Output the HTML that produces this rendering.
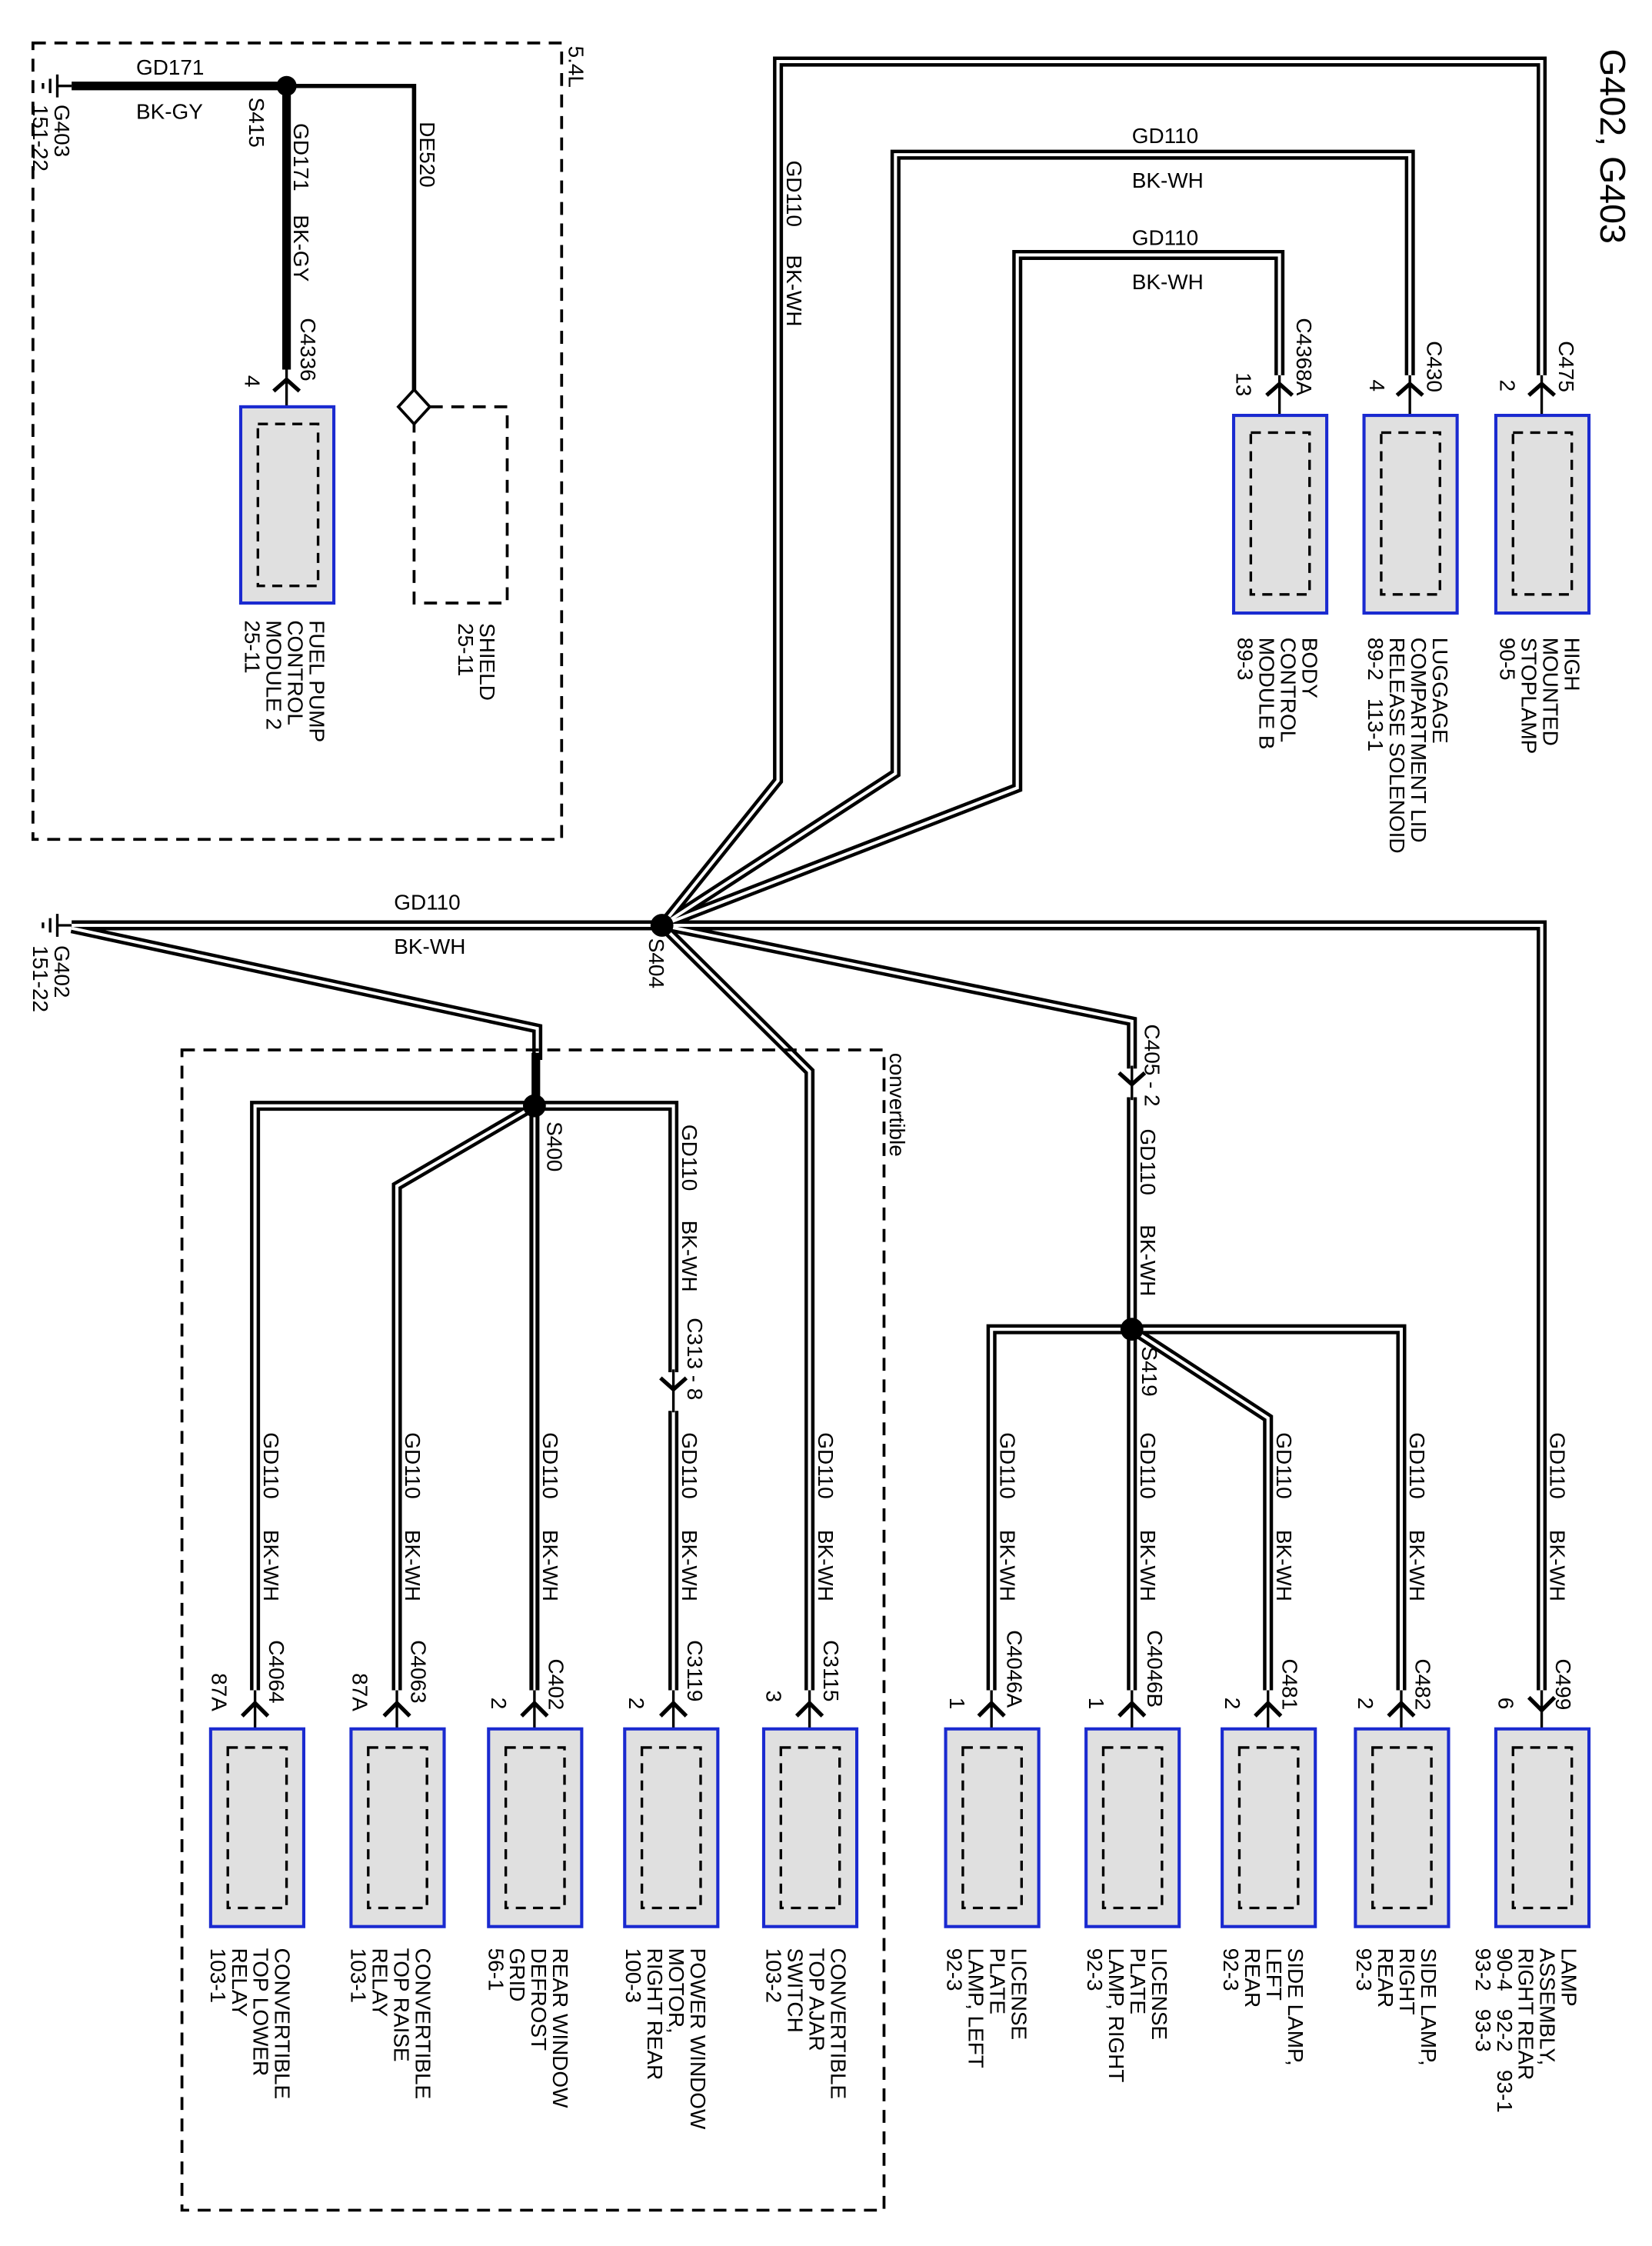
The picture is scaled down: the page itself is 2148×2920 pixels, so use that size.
<!DOCTYPE html>
<html><head><meta charset="utf-8"><style>
html,body{margin:0;padding:0;background:#fff;}
svg{display:block;}
text{font-family:"Liberation Sans",Arial,sans-serif;font-size:15px;fill:#000;}
.bx{fill:#e0e0e0;stroke:#1a2ad0;stroke-width:2.2;}
.in{fill:none;stroke:#000;stroke-width:1.8;stroke-dasharray:7 5;}
.w1{fill:none;stroke:#000;stroke-width:7;stroke-linejoin:miter;}
.w2{fill:none;stroke:#fff;stroke-width:2.2;stroke-linejoin:miter;}
.th{fill:none;stroke:#000;stroke-width:6;}
.tn{fill:none;stroke:#000;stroke-width:3;}
.ch{fill:none;stroke:#000;stroke-width:2.8;}
.ln{fill:none;stroke:#000;stroke-width:1.8;}
.db{fill:none;stroke:#000;stroke-width:2;stroke-dasharray:9 6;}
</style></head><body>
<svg width="2148" height="2920" viewBox="0 0 1153 1568" preserveAspectRatio="none" xmlns="http://www.w3.org/2000/svg">
<defs>
<path id="chv" d="M-9,6 L0,-3 L9,6"/>
</defs>
<rect class="db" x="23" y="30" width="369" height="556"/>
<text transform="translate(397,32) rotate(90)">5.4L</text>
<line class="ln" x1="40" y1="52" x2="40" y2="68"/><line class="ln" x1="35" y1="55" x2="35" y2="65"/><line class="ln" x1="30" y1="58" x2="30" y2="62"/>
<line class="ln" x1="40" y1="60" x2="50" y2="60"/>
<text transform="translate(38,73) rotate(90)">G403</text>
<text transform="translate(23,73) rotate(90)">151-22</text>
<line class="th" x1="50" y1="60" x2="200" y2="60"/>
<text x="95" y="52">GD171</text>
<text x="95" y="83">BK-GY</text>
<circle cx="200" cy="60" r="7"/>
<text transform="translate(174,68) rotate(90)">S415</text>
<line class="th" x1="200" y1="60" x2="200" y2="258"/>
<text transform="translate(205,86) rotate(90)">GD171</text>
<text transform="translate(205,150) rotate(90)">BK-GY</text>
<text transform="translate(210,222) rotate(90)">C4336</text>
<text transform="translate(171,262) rotate(90)">4</text>
<path class="ch" d="M191,273 L200,265 L209,273"/><line class="ln" x1="200" y1="258" x2="200" y2="296"/>
<rect class="bx" x="168" y="284" width="65" height="137"/>
<rect class="in" x="180" y="296" width="42" height="113"/>
<text transform="translate(216,433) rotate(90)">FUEL PUMP</text>
<text transform="translate(201,433) rotate(90)">CONTROL</text>
<text transform="translate(186,433) rotate(90)">MODULE 2</text>
<text transform="translate(171,433) rotate(90)">25-11</text>
<polyline class="tn" points="204,60 289,60 289,274"/>
<text transform="translate(293,85) rotate(90)">DE520</text>
<path d="M289,272 L300,284 L289,296 L278,284 Z" fill="#fff" stroke="#000" stroke-width="2"/>
<path class="db" d="M300,284 L354,284 L354,421 L289,421 L289,296"/>
<text transform="translate(335,435) rotate(90)">SHIELD</text>
<text transform="translate(320,435) rotate(90)">25-11</text>

<text transform="translate(1117,34) rotate(90)" style="font-size:25px">G402, G403</text>

<line class="ln" x1="40" y1="638" x2="40" y2="654"/><line class="ln" x1="35" y1="641" x2="35" y2="651"/><line class="ln" x1="30" y1="644" x2="30" y2="648"/>
<line class="ln" x1="40" y1="646" x2="50" y2="646"/>
<text transform="translate(38,660) rotate(90)">G402</text>
<text transform="translate(23,660) rotate(90)">151-22</text>

<g>
<path class="w1" d="M50,646 L462,646"/>
<path class="w1" d="M462,646 L543,545 L543,43 L1076,43 L1076,262"/>
<path class="w1" d="M462,646 L625,540 L625,108 L984,108 L984,262"/>
<path class="w1" d="M462,646 L710,550 L710,178 L893,178 L893,262"/>
<path class="w1" d="M462,646 L1076,646 L1076,1180"/>
<path class="w1" d="M462,646 L790,713 L790,746"/>
<path class="w1" d="M790,766 L790,928"/>
<path class="w1" d="M790,928 L692,928 L692,1180"/>
<path class="w1" d="M790,928 L790,1180"/>
<path class="w1" d="M790,928 L885,990 L885,1180"/>
<path class="w1" d="M790,928 L978,928 L978,1180"/>
<path class="w1" d="M462,646 L565,748 L565,1180"/>
<path class="w1" d="M50,648 L375,718 L375,740"/>
<path class="w1" d="M373,772 L178,772 L178,1180"/>
<path class="w1" d="M373,772 L277,828 L277,1180"/>
<path class="w1" d="M373,772 L373,1180"/>
<path class="w1" d="M373,772 L470,772 L470,958"/>
<path class="w1" d="M470,985 L470,1180"/>
</g>
<g>
<path class="w2" d="M50,646 L462,646"/>
<path class="w2" d="M462,646 L543,545 L543,43 L1076,43 L1076,262"/>
<path class="w2" d="M462,646 L625,540 L625,108 L984,108 L984,262"/>
<path class="w2" d="M462,646 L710,550 L710,178 L893,178 L893,262"/>
<path class="w2" d="M462,646 L1076,646 L1076,1180"/>
<path class="w2" d="M462,646 L790,713 L790,746"/>
<path class="w2" d="M790,766 L790,928"/>
<path class="w2" d="M790,928 L692,928 L692,1180"/>
<path class="w2" d="M790,928 L790,1180"/>
<path class="w2" d="M790,928 L885,990 L885,1180"/>
<path class="w2" d="M790,928 L978,928 L978,1180"/>
<path class="w2" d="M462,646 L565,748 L565,1180"/>
<path class="w2" d="M50,648 L375,718 L375,740"/>
<path class="w2" d="M373,772 L178,772 L178,1180"/>
<path class="w2" d="M373,772 L277,828 L277,1180"/>
<path class="w2" d="M373,772 L470,772 L470,958"/>
<path class="w2" d="M470,985 L470,1180"/>
</g>
<line class="th" x1="374" y1="735" x2="374" y2="772"/>
<line class="th" x1="373" y1="772" x2="373" y2="1180"/>
<line x1="373" y1="780" x2="373" y2="1180" stroke="#fff" stroke-width="1.5"/>

<circle cx="462" cy="646" r="8"/>
<circle cx="790" cy="928" r="8"/>
<circle cx="373" cy="772" r="8"/>

<text x="275" y="635">GD110</text>
<text x="275" y="666">BK-WH</text>
<text transform="translate(453,655) rotate(90)">S404</text>
<text transform="translate(549,112) rotate(90)">GD110</text>
<text transform="translate(549,178) rotate(90)">BK-WH</text>
<text x="790" y="100">GD110</text><text x="790" y="131">BK-WH</text>
<text x="790" y="171">GD110</text><text x="790" y="202">BK-WH</text>

<g>
<path class="ch" d="M884,276 L893,268 L902,276"/><line class="ln" x1="893" y1="262" x2="893" y2="302"/>
<rect class="bx" x="861" y="290" width="65" height="138"/><rect class="in" x="873" y="302" width="41" height="113"/>
<text transform="translate(905,222) rotate(90)">C4368A</text><text transform="translate(863,260) rotate(90)">13</text>
<text transform="translate(909,445) rotate(90)">BODY</text><text transform="translate(894,445) rotate(90)">CONTROL</text><text transform="translate(879,445) rotate(90)">MODULE B</text><text transform="translate(864,445) rotate(90)">89-3</text>

<path class="ch" d="M975,276 L984,268 L993,276"/><line class="ln" x1="984" y1="262" x2="984" y2="302"/>
<rect class="bx" x="952" y="290" width="65" height="138"/><rect class="in" x="964" y="302" width="41" height="113"/>
<text transform="translate(996,238) rotate(90)">C430</text><text transform="translate(956,265) rotate(90)">4</text>
<text transform="translate(1000,445) rotate(90)">LUGGAGE</text><text transform="translate(985,445) rotate(90)">COMPARTMENT LID</text><text transform="translate(970,445) rotate(90)">RELEASE SOLENOID</text><text transform="translate(955,445) rotate(90)">89-2&#160;&#160;&#160;113-1</text>

<path class="ch" d="M1067,276 L1076,268 L1085,276"/><line class="ln" x1="1076" y1="262" x2="1076" y2="302"/>
<rect class="bx" x="1044" y="290" width="65" height="138"/><rect class="in" x="1056" y="302" width="41" height="113"/>
<text transform="translate(1088,238) rotate(90)">C475</text><text transform="translate(1047,265) rotate(90)">2</text>
<text transform="translate(1092,445) rotate(90)">HIGH</text><text transform="translate(1077,445) rotate(90)">MOUNTED</text><text transform="translate(1062,445) rotate(90)">STOPLAMP</text><text transform="translate(1047,445) rotate(90)">90-5</text>
</g>

<path class="ch" d="M781,749 L790,757 L799,749"/><line class="ln" x1="790" y1="744" x2="790" y2="768"/>
<text transform="translate(799,715) rotate(90)">C405 - 2</text>
<text transform="translate(796,788) rotate(90)">GD110</text>
<text transform="translate(796,855) rotate(90)">BK-WH</text>
<text transform="translate(797,940) rotate(90)">S419</text>

<path class="ch" d="M461,962 L470,970 L479,962"/><line class="ln" x1="470" y1="956" x2="470" y2="986"/>
<text transform="translate(476,785) rotate(90)">GD110</text>
<text transform="translate(476,852) rotate(90)">BK-WH</text>
<text transform="translate(480,920) rotate(90)">C313 - 8</text>
<text transform="translate(382,783) rotate(90)">S400</text>

<rect class="db" x="127" y="733" width="490" height="810"/>
<text transform="translate(621,735) rotate(90)">convertible</text>

<text transform="translate(184,1000) rotate(90)">GD110</text><text transform="translate(184,1068) rotate(90)">BK-WH</text>
<text transform="translate(283,1000) rotate(90)">GD110</text><text transform="translate(283,1068) rotate(90)">BK-WH</text>
<text transform="translate(379,1000) rotate(90)">GD110</text><text transform="translate(379,1068) rotate(90)">BK-WH</text>
<text transform="translate(476,1000) rotate(90)">GD110</text><text transform="translate(476,1068) rotate(90)">BK-WH</text>
<text transform="translate(571,1000) rotate(90)">GD110</text><text transform="translate(571,1068) rotate(90)">BK-WH</text>
<text transform="translate(698,1000) rotate(90)">GD110</text><text transform="translate(698,1068) rotate(90)">BK-WH</text>
<text transform="translate(796,1000) rotate(90)">GD110</text><text transform="translate(796,1068) rotate(90)">BK-WH</text>
<text transform="translate(891,1000) rotate(90)">GD110</text><text transform="translate(891,1068) rotate(90)">BK-WH</text>
<text transform="translate(984,1000) rotate(90)">GD110</text><text transform="translate(984,1068) rotate(90)">BK-WH</text>
<text transform="translate(1082,1000) rotate(90)">GD110</text><text transform="translate(1082,1068) rotate(90)">BK-WH</text>

<g>
<use href="#chv" x="178" y="1192" class="ch"/><line class="ln" x1="178" y1="1180" x2="178" y2="1220"/>
<rect class="bx" x="147" y="1207" width="65" height="138"/><rect class="in" x="159" y="1220" width="41" height="112"/>
<text transform="translate(188,1145) rotate(90)">C4064</text><text transform="translate(148,1168) rotate(90)">87A</text>
<text transform="translate(192,1360) rotate(90)">CONVERTIBLE</text><text transform="translate(177,1360) rotate(90)">TOP LOWER</text><text transform="translate(162,1360) rotate(90)">RELAY</text><text transform="translate(147,1360) rotate(90)">103-1</text>

<use href="#chv" x="277" y="1192" class="ch"/><line class="ln" x1="277" y1="1180" x2="277" y2="1220"/>
<rect class="bx" x="245" y="1207" width="65" height="138"/><rect class="in" x="257" y="1220" width="41" height="112"/>
<text transform="translate(287,1145) rotate(90)">C4063</text><text transform="translate(246,1168) rotate(90)">87A</text>
<text transform="translate(290,1360) rotate(90)">CONVERTIBLE</text><text transform="translate(275,1360) rotate(90)">TOP RAISE</text><text transform="translate(260,1360) rotate(90)">RELAY</text><text transform="translate(245,1360) rotate(90)">103-1</text>

<use href="#chv" x="373" y="1192" class="ch"/><line class="ln" x1="373" y1="1180" x2="373" y2="1220"/>
<rect class="bx" x="341" y="1207" width="65" height="138"/><rect class="in" x="353" y="1220" width="41" height="112"/>
<text transform="translate(383,1158) rotate(90)">C402</text><text transform="translate(343,1185) rotate(90)">2</text>
<text transform="translate(386,1360) rotate(90)">REAR WINDOW</text><text transform="translate(371,1360) rotate(90)">DEFROST</text><text transform="translate(356,1360) rotate(90)">GRID</text><text transform="translate(341,1360) rotate(90)">56-1</text>

<use href="#chv" x="470" y="1192" class="ch"/><line class="ln" x1="470" y1="1180" x2="470" y2="1220"/>
<rect class="bx" x="436" y="1207" width="65" height="138"/><rect class="in" x="448" y="1220" width="41" height="112"/>
<text transform="translate(480,1145) rotate(90)">C3119</text><text transform="translate(439,1185) rotate(90)">2</text>
<text transform="translate(482,1360) rotate(90)">POWER WINDOW</text><text transform="translate(467,1360) rotate(90)">MOTOR,</text><text transform="translate(452,1360) rotate(90)">RIGHT REAR</text><text transform="translate(437,1360) rotate(90)">100-3</text>

<use href="#chv" x="565" y="1192" class="ch"/><line class="ln" x1="565" y1="1180" x2="565" y2="1220"/>
<rect class="bx" x="533" y="1207" width="65" height="138"/><rect class="in" x="545" y="1220" width="41" height="112"/>
<text transform="translate(575,1145) rotate(90)">C3115</text><text transform="translate(535,1180) rotate(90)">3</text>
<text transform="translate(580,1360) rotate(90)">CONVERTIBLE</text><text transform="translate(565,1360) rotate(90)">TOP AJAR</text><text transform="translate(550,1360) rotate(90)">SWITCH</text><text transform="translate(535,1360) rotate(90)">103-2</text>

<use href="#chv" x="692" y="1192" class="ch"/><line class="ln" x1="692" y1="1180" x2="692" y2="1220"/>
<rect class="bx" x="660" y="1207" width="65" height="138"/><rect class="in" x="672" y="1220" width="41" height="112"/>
<text transform="translate(703,1138) rotate(90)">C4046A</text><text transform="translate(663,1185) rotate(90)">1</text>
<text transform="translate(706,1360) rotate(90)">LICENSE</text><text transform="translate(691,1360) rotate(90)">PLATE</text><text transform="translate(676,1360) rotate(90)">LAMP, LEFT</text><text transform="translate(661,1360) rotate(90)">92-3</text>

<use href="#chv" x="790" y="1192" class="ch"/><line class="ln" x1="790" y1="1180" x2="790" y2="1220"/>
<rect class="bx" x="758" y="1207" width="65" height="138"/><rect class="in" x="770" y="1220" width="41" height="112"/>
<text transform="translate(801,1138) rotate(90)">C4046B</text><text transform="translate(760,1185) rotate(90)">1</text>
<text transform="translate(804,1360) rotate(90)">LICENSE</text><text transform="translate(789,1360) rotate(90)">PLATE</text><text transform="translate(774,1360) rotate(90)">LAMP, RIGHT</text><text transform="translate(759,1360) rotate(90)">92-3</text>

<use href="#chv" x="885" y="1192" class="ch"/><line class="ln" x1="885" y1="1180" x2="885" y2="1220"/>
<rect class="bx" x="853" y="1207" width="65" height="138"/><rect class="in" x="865" y="1220" width="41" height="112"/>
<text transform="translate(895,1158) rotate(90)">C481</text><text transform="translate(855,1185) rotate(90)">2</text>
<text transform="translate(899,1360) rotate(90)">SIDE LAMP,</text><text transform="translate(884,1360) rotate(90)">LEFT</text><text transform="translate(869,1360) rotate(90)">REAR</text><text transform="translate(854,1360) rotate(90)">92-3</text>

<use href="#chv" x="978" y="1192" class="ch"/><line class="ln" x1="978" y1="1180" x2="978" y2="1220"/>
<rect class="bx" x="946" y="1207" width="65" height="138"/><rect class="in" x="958" y="1220" width="41" height="112"/>
<text transform="translate(988,1158) rotate(90)">C482</text><text transform="translate(948,1185) rotate(90)">2</text>
<text transform="translate(992,1360) rotate(90)">SIDE LAMP,</text><text transform="translate(977,1360) rotate(90)">RIGHT</text><text transform="translate(962,1360) rotate(90)">REAR</text><text transform="translate(947,1360) rotate(90)">92-3</text>

<path class="ch" d="M1067,1185 L1076,1194 L1085,1185"/><line class="ln" x1="1076" y1="1180" x2="1076" y2="1220"/>
<rect class="bx" x="1044" y="1207" width="65" height="138"/><rect class="in" x="1056" y="1220" width="41" height="112"/>
<text transform="translate(1086,1158) rotate(90)">C499</text><text transform="translate(1046,1185) rotate(90)">6</text>
<text transform="translate(1090,1360) rotate(90)">LAMP</text><text transform="translate(1075,1360) rotate(90)">ASSEMBLY,</text><text transform="translate(1060,1360) rotate(90)">RIGHT REAR</text><text transform="translate(1045,1360) rotate(90)">90-4&#160;&#160;&#160;92-2&#160;&#160;&#160;93-1</text><text transform="translate(1030,1360) rotate(90)">93-2&#160;&#160;&#160;93-3</text>
</g>
</svg>
</body></html>
